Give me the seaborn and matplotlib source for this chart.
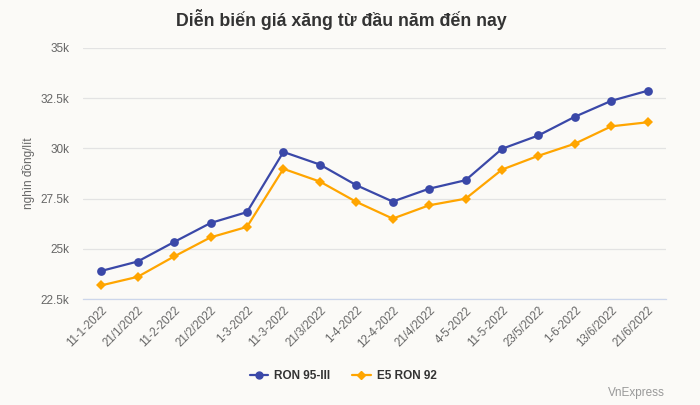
import matplotlib
matplotlib.use("Agg")
import matplotlib.pyplot as plt
import seaborn as sns
import pandas as pd
from matplotlib.ticker import FixedLocator
from matplotlib.lines import Line2D

dates = ["11-1-2022", "21/1/2022", "11-2-2022", "21/2/2022", "1-3-2022", "11-3-2022",
         "21/3/2022", "1-4-2022", "12-4-2022", "21/4/2022", "4-5-2022", "11-5-2022",
         "23/5/2022", "1-6-2022", "13/6/2022", "21/6/2022"]
ron95 = [23897, 24366, 25339, 26284, 26827, 29824, 29196, 28169, 27352, 27993,
         28416, 29980, 30646, 31578, 32370, 32873]
e5 = [23178, 23604, 24618, 25569, 26092, 28983, 28349, 27338, 26503, 27167,
      27495, 28945, 29633, 30236, 31100, 31302]
series_names = ["RON 95-III", "E5 RON 92"]
yticks = [22500, 25000, 27500, 30000, 32500, 35000]
ytick_labels = ["22.5k", "25k", "27.5k", "30k", "32.5k", "35k"]

bg = "#FBFAF7"
blue = "#3A48A8"
orange = "#FFA500"

df = pd.DataFrame({
    "x": list(range(len(dates))) * 2,
    "price": ron95 + e5,
    "series": [series_names[0]] * len(dates) + [series_names[1]] * len(dates),
})

sns.set_theme(style="white")
plt.rcParams['font.family'] = ['Liberation Sans', 'DejaVu Sans']

fig = plt.figure(figsize=(7, 4.05), dpi=100, facecolor=bg)
ax = fig.add_axes([83/700, 1-299/405, (666-83)/700, (299-48)/405])
ax.set_facecolor(bg)

sns.lineplot(data=df, x="x", y="price", hue="series", style="series",
             palette=[blue, orange], markers=["o", "D"], dashes=False,
             linewidth=1.6, markeredgewidth=0, ax=ax, legend=False)
for ln, ms in zip(ax.lines, [6.3, 4.8]):
    ln.set_markersize(ms)

ax.set_xlim(-0.5, len(dates) - 0.5)
ax.set_ylim(22500, 35000)
ax.yaxis.set_major_locator(FixedLocator(yticks))
ax.set_yticklabels(ytick_labels, color="#666666", fontsize=8.5)
ax.set_xticks(range(len(dates)))
ax.set_xticklabels(dates, rotation=45, ha="right", rotation_mode="anchor",
                   color="#666666", fontsize=8.3)
ax.tick_params(axis="y", length=0, pad=10)
ax.tick_params(axis="x", length=0, pad=4)
ax.grid(axis="y", color="#E3E3E3", linewidth=0.9)
ax.set_axisbelow(True)
for s in ["top", "right", "left"]:
    ax.spines[s].set_visible(False)
ax.spines["bottom"].set_color("#CCD6EB")
ax.spines["bottom"].set_linewidth(0.9)
ax.set_xlabel("")
ax.set_ylabel("nghìn đồng/lít", color="#666666", fontsize=8.5, labelpad=4)

fig.text(0.487, 1-20/405, "Diễn biến giá xăng từ đầu năm đến nay", ha="center",
         va="center", fontsize=12.75, fontweight="bold", color="#333333")

handles = [Line2D([], [], color=blue, marker="o", markersize=5, linewidth=1.6),
           Line2D([], [], color=orange, marker="D", markersize=4, linewidth=1.6)]
leg = fig.legend(handles, series_names, loc="center", bbox_to_anchor=(0.49, 1-376/405),
                 ncol=2, frameon=False, handlelength=1.6, columnspacing=1.8,
                 handletextpad=0.5, prop={"size": 8.5, "weight": "bold"})
for t in leg.get_texts():
    t.set_color("#333333")

fig.text(665/700, 1-393/405, "VnExpress", ha="right", va="center", fontsize=8.5,
         color="#999999")

fig.savefig("out.png", dpi=100, facecolor=bg)
